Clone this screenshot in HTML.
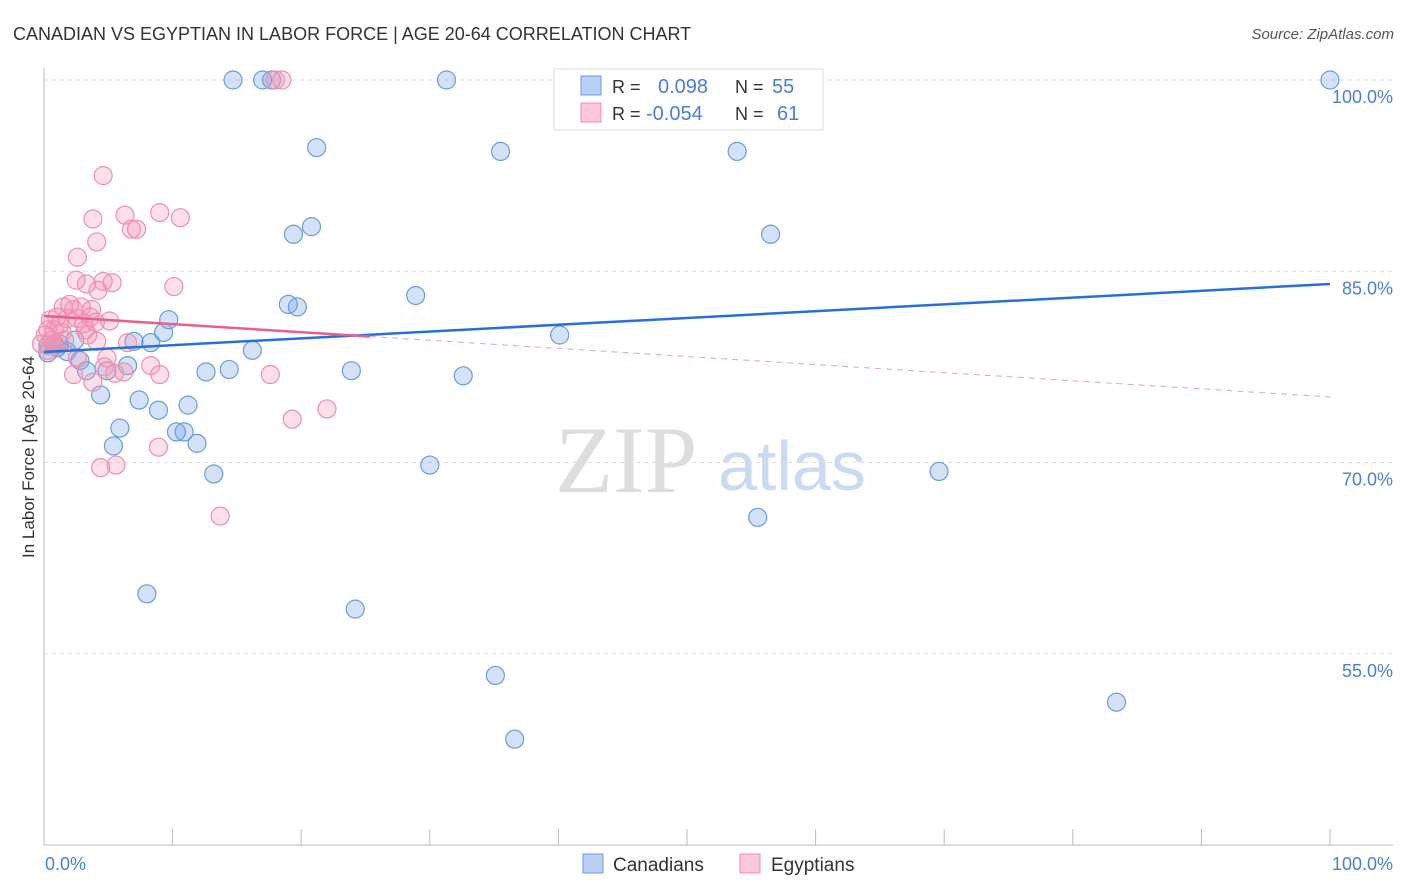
<!DOCTYPE html>
<html><head><meta charset="utf-8"><style>
body{margin:0;background:#fff;font-family:"Liberation Sans",sans-serif;}
#wrap{position:relative;width:1406px;height:892px;overflow:hidden;}
</style></head><body>
<div id="wrap">
<svg id="chart" width="1406" height="892" xmlns="http://www.w3.org/2000/svg">
<text x="13" y="40" font-size="18" fill="#333">CANADIAN VS EGYPTIAN IN LABOR FORCE | AGE 20-64 CORRELATION CHART</text>
<text x="1394" y="39" font-size="15" fill="#555" font-style="italic" text-anchor="end">Source: ZipAtlas.com</text>
<text x="555" y="492" font-size="95" fill="#ddd" font-family="Liberation Serif,serif">ZIP</text>
<text x="718" y="490" font-size="70" fill="#c9daf2">atlas</text>
<g id="grid"></g>
<line x1="44" y1="68" x2="44" y2="845" stroke="#bbb"/>
<line x1="44" y1="845" x2="1393" y2="845" stroke="#bbb"/>
<g id="xticks"></g>
<text transform="translate(34,457) rotate(-90)" font-size="17" fill="#333" text-anchor="middle">In Labor Force | Age 20-64</text>
<text x="45" y="870" font-size="18" fill="#4a7fd4">0.0%</text>
<text x="1393" y="870" font-size="18" fill="#4a7fd4" text-anchor="end">100.0%</text>
<g id="pts"></g>
<g id="trends"></g>
<g>
<rect x="554" y="69" width="269" height="61" fill="#fff" stroke="#ddd"/>
<rect x="581" y="76" width="20" height="19" fill="#b8d1f3" stroke="#6a9be0"/>
<rect x="581" y="103" width="20" height="19" fill="#fcc8d7" stroke="#ee8fae"/>
<text x="612" y="93" font-size="18" fill="#333">R =</text>
<text x="658" y="93" font-size="20" fill="#4a7fd4">0.098</text>
<text x="735" y="93" font-size="18" fill="#333">N =</text>
<text x="772" y="93" font-size="20" fill="#4a7fd4">55</text>
<text x="612" y="120" font-size="18" fill="#333">R =</text>
<text x="646" y="120" font-size="20" fill="#4a7fd4">-0.054</text>
<text x="735" y="120" font-size="18" fill="#333">N =</text>
<text x="777" y="120" font-size="20" fill="#4a7fd4">61</text>
</g>
<g>
<rect x="583" y="854" width="20" height="19" fill="#b8d1f3" stroke="#6a9be0"/>
<text x="613" y="871" font-size="19" fill="#333">Canadians</text>
<rect x="740" y="854" width="20" height="19" fill="#fcc8d7" stroke="#ee8fae"/>
<text x="771" y="871" font-size="19" fill="#333">Egyptians</text>
</g>
</svg>
</div>
<script>
const yTicks=[100,85,70,55];
const yTickLabels=["100.0%","85.0%","70.0%","55.0%"];
const xTicks=[0,10,20,30,40,50,60,70,80,90,100];
const canX=[14.7,17.0,17.7,31.3,40.9,47.7,100,21.2,35.5,53.9,19.4,20.8,56.5,19.0,19.7,28.9,40.1,9.7,9.3,7.0,8.3,16.2,1.2,2.4,0.3,1.8,2.8,3.3,4.9,6.5,12.6,14.4,23.9,32.6,4.4,7.4,8.9,11.2,5.9,10.3,10.9,11.9,5.4,13.2,30.0,69.6,55.5,8.0,24.2,35.1,83.4,36.6,0.8,0.3,1.0];
const canY=[100,100,100,100,100,100,100,94.7,94.4,94.4,87.9,88.5,87.9,82.4,82.2,83.1,80.0,81.2,80.2,79.5,79.4,78.8,79.3,79.6,78.6,78.7,78.0,77.2,77.2,77.6,77.1,77.3,77.2,76.8,75.3,74.9,74.1,74.5,72.7,72.4,72.4,71.5,71.3,69.1,69.8,69.3,65.7,59.7,58.5,53.3,51.2,48.3,79.3,79.2,79.0];
const egyX=[4.6,3.8,6.3,9.0,10.6,6.8,7.2,4.1,2.6,2.5,3.3,4.6,5.3,4.2,10.1,1.5,2.3,2.9,3.7,0.5,1.0,1.8,2.6,3.1,3.6,0.3,0.8,1.4,3.2,4.1,6.5,-0.2,0.3,0.8,2.3,2.6,3.8,4.7,5.5,6.2,8.3,9.0,4.9,17.6,19.3,22.0,8.9,4.4,5.6,13.7,18.5,18.0,0.1,0.6,1.2,2.0,3.4,4.0,1.6,5.1];
const egyY=[92.5,89.1,89.4,89.6,89.2,88.3,88.3,87.3,86.1,84.3,84.0,84.2,84.1,83.5,83.8,82.2,82.0,82.2,82.0,81.2,81.4,81.3,81.3,80.9,81.4,80.4,80.4,80.2,80.4,79.5,79.4,79.3,78.8,79.1,76.9,78.2,76.3,77.5,77.0,77.1,77.6,76.9,78.2,76.9,73.4,74.2,71.2,69.6,69.8,65.8,100,100,80.0,79.6,80.8,82.4,80.0,81.0,79.6,81.1];
const trendBlue=[78.67,84.0];
const trendPink=[81.49,75.14];
const pinkSolidEnd=25.35;
const NS="http://www.w3.org/2000/svg";
function sx(v){return 44+v*12.86;}
function sy(v){return 80+(100-v)*12.75;}
function mk(tag,attrs,parent){const e=document.createElementNS(NS,tag);for(const k in attrs)e.setAttribute(k,attrs[k]);parent.appendChild(e);return e;}
const grid=document.getElementById('grid');
yTicks.forEach((t,i)=>{
 const l=mk('line',{x1:44,x2:1393,y1:sy(t),y2:sy(t),stroke:'#ddd','stroke-dasharray':'4,4'},grid);
 
 
 const tx=mk('text',{x:1393,y:sy(t)+23,'font-size':18,fill:'#4a7fd4','text-anchor':'end'},grid);
 tx.textContent=yTickLabels[i];
 
 
});
const xt=document.getElementById('xticks');
xTicks.forEach(t=>{
 const l=mk('line',{x1:sx(t),x2:sx(t),y1:829,y2:845,stroke:'#bbb'},xt);
 
 
});
const pts=document.getElementById('pts');
canX.forEach((x,i)=>{
 const c=mk('circle',{cx:sx(x),cy:sy(canY[i]),r:9,fill:'rgba(110,160,230,0.3)',stroke:'#6a9be0','stroke-width':1.2},pts);
 
 
});
egyX.forEach((x,i)=>{
 const c=mk('circle',{cx:sx(x),cy:sy(egyY[i]),r:9,fill:'rgba(245,150,180,0.3)',stroke:'#ee8fae','stroke-width':1.2},pts);
 
 
});
const tr=document.getElementById('trends');
const bl=mk('line',{x1:sx(0),y1:sy(trendBlue[0]),x2:sx(100),y2:sy(trendBlue[1]),stroke:'#2a6fd6','stroke-width':2.5},tr);


const pm=trendPink[0]+(trendPink[1]-trendPink[0])*pinkSolidEnd/100;
const pl=mk('line',{x1:sx(0),y1:sy(trendPink[0]),x2:sx(pinkSolidEnd),y2:sy(pm),stroke:'#e8608a','stroke-width':2.5},tr);


const pd=mk('line',{x1:sx(pinkSolidEnd),y1:sy(pm),x2:sx(100),y2:sy(trendPink[1]),stroke:'#e8a0b8','stroke-width':1,'stroke-dasharray':'6,5'},tr);


</script>
</body></html>
